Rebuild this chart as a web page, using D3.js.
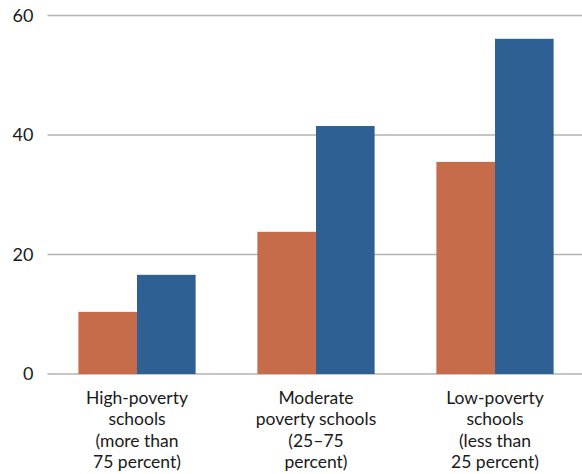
<!DOCTYPE html>
<html>
<head>
<meta charset="utf-8">
<script src="https://cdn.jsdelivr.net/npm/d3@7"></script>
<style>
  html, body { margin: 0; padding: 0; background: #fff; }
  svg { display: block; }
  text { font-family: Lato, "Open Sans", sans-serif; fill: #1a1a1a; }
</style>
</head>
<body>
<svg id="chart" width="582" height="474"></svg>
<script>
// Categories (each label split into its display lines)
const categories = [
  ["High-poverty", "schools", "(more than", "75 percent)"],
  ["Moderate", "poverty schools", "(25–75", "percent)"],
  ["Low-poverty", "schools", "(less than", "25 percent)"]
];
const seriesA = [10.4, 23.8, 35.5];   // orange series
const seriesB = [16.6, 41.5, 56.1];   // blue series
const yTicks = [0, 20, 40, 60];
const colors = ["#C76C4B", "#2E6094"];

const svg = d3.select("#chart");
const plot = { left: 47.5, right: 584.5, top: 15.5, bottom: 374 };

const x = d3.scaleBand()
  .domain(d3.range(categories.length))
  .range([plot.left, plot.right])
  .paddingInner(0.345)
  .paddingOuter(0.1725);

const xSub = d3.scaleBand()
  .domain([0, 1])
  .range([0, x.bandwidth()]);

const y = d3.scaleLinear().domain([0, 60]).range([plot.bottom, plot.top]);

// Horizontal gridlines
svg.append("g")
  .selectAll("line")
  .data(yTicks)
  .join("line")
  .attr("x1", plot.left)
  .attr("x2", 582)
  .attr("y1", d => y(d))
  .attr("y2", d => y(d))
  .attr("stroke", "#b3b3b3")
  .attr("stroke-width", 1.5);

// Y tick labels
svg.append("g")
  .selectAll("text")
  .data(yTicks)
  .join("text")
  .attr("x", 33.5)
  .attr("y", d => y(d))
  .attr("dy", "0.36em")
  .attr("text-anchor", "end")
  .attr("font-size", 18)
  .text(d => d);

// Bars
const groups = svg.append("g")
  .selectAll("g")
  .data(categories.map((c, i) => [seriesA[i], seriesB[i]]))
  .join("g")
  .attr("transform", (d, i) => `translate(${x(i)},0)`);

groups.selectAll("rect")
  .data(d => d)
  .join("rect")
  .attr("x", (d, j) => xSub(j))
  .attr("width", xSub.bandwidth())
  .attr("y", d => y(d))
  .attr("height", d => y(0) - y(d))
  .attr("fill", (d, j) => colors[j]);

// Category labels
const labels = svg.append("g")
  .selectAll("text")
  .data(categories)
  .join("text")
  .attr("text-anchor", "middle")
  .attr("font-size", 17.5)
  .attr("transform", (d, i) => `translate(${x(i) + x.bandwidth() / 2},0)`);

labels.selectAll("tspan")
  .data(d => d)
  .join("tspan")
  .attr("x", 0)
  .attr("y", (d, k) => 404 + k * 21.4)
  .text(d => d);
</script>
</body>
</html>
